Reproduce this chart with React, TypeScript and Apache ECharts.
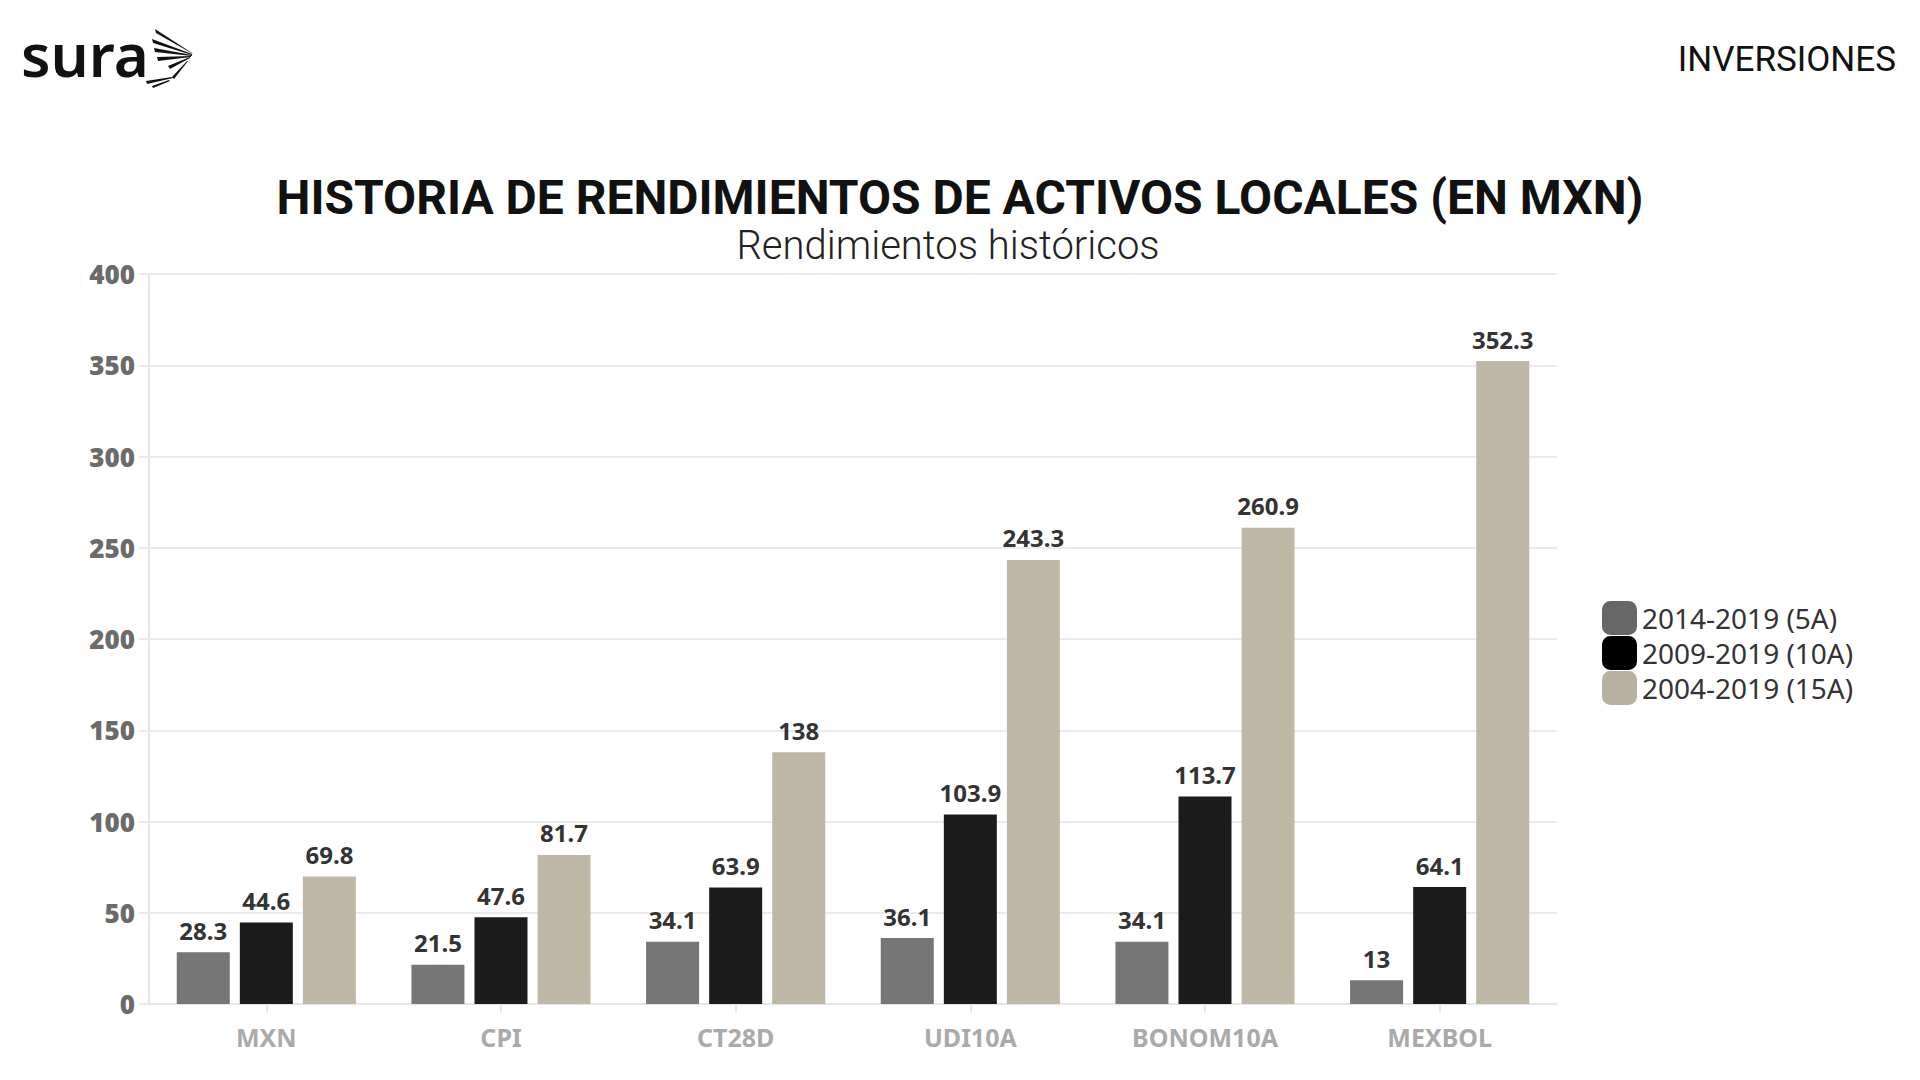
import React, { useEffect, useRef } from "react";
import * as echarts from "echarts";

const categories = ["MXN", "CPI", "CT28D", "UDI10A", "BONOM10A", "MEXBOL"];
const seriesNames = ["2014-2019 (5A)", "2009-2019 (10A)", "2004-2019 (15A)"];
const values5A = [28.3, 21.5, 34.1, 36.1, 34.1, 13];
const values10A = [44.6, 47.6, 63.9, 103.9, 113.7, 64.1];
const values15A = [69.8, 81.7, 138, 243.3, 260.9, 352.3];
const yTicks = { min: 0, max: 400, interval: 50 };

const barColors = ["#767676", "#1c1c1c", "#bfb8a6"];
const legendColors = ["#676767", "#000000", "#b8b19f"];

const wingStrokes: number[][][] = [
  [[155, 29], [156, 33], [193, 54], [192, 53]],
  [[152, 39], [153, 43], [192, 55], [192, 54]],
  [[154, 48], [155, 52], [192, 56], [192, 55]],
  [[157, 57], [158, 61], [191, 57], [191, 56]],
  [[168, 66], [170, 69], [190, 58], [190, 57]],
  [[172, 77], [174, 79], [188, 61], [187, 61]],
  [[146, 81], [147, 84], [173, 78], [172, 77]],
  [[152, 86], [153, 88], [170, 81], [169, 80]],
];

export default function App() {
  const ref = useRef<HTMLDivElement>(null);
  useEffect(() => {
    if (!ref.current) return;
    const chart = echarts.init(ref.current, undefined, { renderer: "svg" });
    const allValues = [values5A, values10A, values15A];
    const option: any = {
      animation: false,
      backgroundColor: "#ffffff",
      title: [
        {
          text: "HISTORIA DE RENDIMIENTOS DE ACTIVOS LOCALES (EN MXN)",
          left: "center",
          top: 168,
          textStyle: { fontFamily: "Roboto", fontWeight: "bold", fontSize: 48, color: "#111111" },
        },
      ],
      graphic: [
        {
          type: "text",
          x: 948,
          y: 245,
          style: {
            text: "Rendimientos históricos",
            font: "300 40px Roboto",
            fill: "#222222",
            textAlign: "center",
            textVerticalAlign: "middle",
          },
        },
        {
          type: "text",
          left: 21,
          top: 24,
          style: { text: "sura", font: "600 60px 'Noto Sans'", fill: "#111111" },
        },
        {
          type: "text",
          right: 24,
          top: 42,
          style: { text: "INVERSIONES", font: "400 35px Roboto", fill: "#111111" },
        },
        ...wingStrokes.map((pts) => ({
          type: "polygon",
          shape: { points: pts },
          style: { fill: "#111111" },
        })),
      ],
      legend: {
        orient: "vertical",
        left: 1597,
        top: 596,
        itemWidth: 35,
        itemHeight: 34,
        itemGap: 1,
        icon: "roundRect",
        textStyle: { fontFamily: "Noto Sans", fontSize: 28, color: "#333333" },
        data: seriesNames.map((n, i) => ({ name: n, itemStyle: { color: legendColors[i] } })),
      },
      grid: { left: 149, right: 363, top: 274, bottom: 76, containLabel: false },
      xAxis: {
        type: "category",
        data: categories,
        axisLine: { show: true, lineStyle: { color: "#e6e6e6", width: 2 } },
        axisTick: { show: true, alignWithLabel: true, length: 8, lineStyle: { color: "#e6e6e6", width: 2 } },
        axisLabel: {
          margin: 20,
          fontFamily: "Noto Sans",
          fontWeight: "bold",
          fontSize: 25,
          color: "#aaaaaa",
        },
      },
      yAxis: {
        type: "value",
        min: yTicks.min,
        max: yTicks.max,
        interval: yTicks.interval,
        axisLine: { show: true, lineStyle: { color: "#e6e6e6", width: 2 } },
        axisTick: { show: true, length: 10, lineStyle: { color: "#ebebeb", width: 2 } },
        splitLine: { show: true, lineStyle: { color: "#ebebeb", width: 2 } },
        axisLabel: {
          margin: 14,
          fontFamily: "Open Sans",
          fontWeight: 800,
          fontSize: 26,
          color: "#6b6b6b",
        },
      },
      series: seriesNames.map((name, i) => ({
        name,
        type: "bar",
        data: allValues[i],
        barWidth: 53,
        barGap: "19%",
        itemStyle: { color: barColors[i] },
        label: {
          show: true,
          position: "top",
          distance: 10,
          fontFamily: "Noto Sans",
          fontWeight: "bold",
          fontSize: 24,
          color: "#333333",
        },
      })),
    };
    chart.setOption(option);
    return () => chart.dispose();
  }, []);
  return (
    <div
      ref={ref}
      style={{ position: "fixed", left: 0, top: 0, width: 1920, height: 1080 }}
    />
  );
}
